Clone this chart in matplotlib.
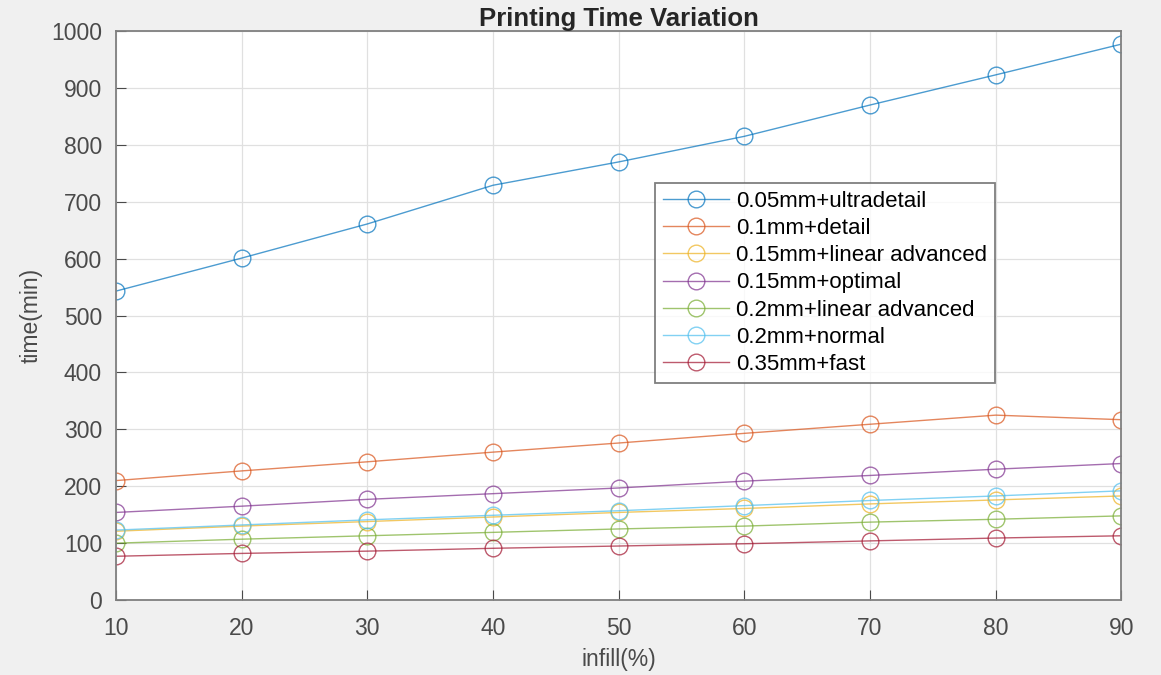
import numpy as np
import matplotlib.pyplot as plt

infill = [10, 20, 30, 40, 50, 60, 70, 80, 90]

ultradetail = [543, 601, 661, 729, 770, 815, 870, 923, 977]
detail = [210, 227, 243, 260, 276, 293, 309, 325, 317]
linear_015 = [121, 130, 138, 146, 154, 161, 169, 176, 183]
optimal = [154, 165, 177, 187, 197, 209, 219, 230, 240]
linear_02 = [100, 107, 113, 119, 125, 130, 137, 142, 148]
normal = [123, 132, 141, 149, 157, 166, 175, 183, 192]
fast = [77, 82, 86, 91, 95, 99, 104, 109, 113]

labels = ['0.05mm+ultradetail', '0.1mm+detail', '0.15mm+linear advanced',
          '0.15mm+optimal', '0.2mm+linear advanced', '0.2mm+normal', '0.35mm+fast']
series = [ultradetail, detail, linear_015, optimal, linear_02, normal, fast]
# matlab default line colors
colors = ['#0072BD', '#D95319', '#EDB120', '#7E2F8E', '#77AC30', '#4DBEEE', '#A2142F']

plt.rcParams['font.family'] = 'Liberation Sans'

fig = plt.figure(figsize=(11.61, 6.75), dpi=100, facecolor='#f0f0f0')
ax = fig.add_axes([0.0999, 0.111, 0.866, 0.843])

for y, lab, c in zip(series, labels, colors):
    ax.plot(infill, y, marker='o', ms=12, mfc='none', mew=1.0, lw=1.0,
            color=c, alpha=0.7, label=lab)

ax.set_xlim(10, 90)
ax.set_ylim(0, 1000)
ax.set_xticks(np.arange(10, 91, 10))
ax.set_yticks(np.arange(0, 1001, 100))
ax.grid(True, color='#e0e0e0', lw=0.9)
ax.tick_params(direction='in', labelsize=16.5, colors='#4a4a4a', length=7)
ax.tick_params(axis='x', pad=12)
ax.tick_params(axis='y', pad=10)
for s in ax.spines.values():
    s.set_color('#808080')
    s.set_linewidth(1.3)

ax.set_xlabel('infill(%)', fontsize=16.5, color='#4a4a4a', labelpad=6)
ax.set_ylabel('time(min)', fontsize=16.5, color='#4a4a4a', labelpad=6)
ax.set_title('Printing Time Variation', fontsize=18.5, fontweight='bold',
             color='#262626', pad=2)

leg = ax.legend(loc='upper left', bbox_to_anchor=(0.536, 0.733), fontsize=16,
                frameon=True, fancybox=False, edgecolor='#606060',
                handlelength=3.0, borderpad=0.35, labelspacing=0.28,
                handletextpad=0.3, borderaxespad=0)
leg.get_frame().set_linewidth(1.3)

fig.savefig('out.png', dpi=100, facecolor=fig.get_facecolor())
